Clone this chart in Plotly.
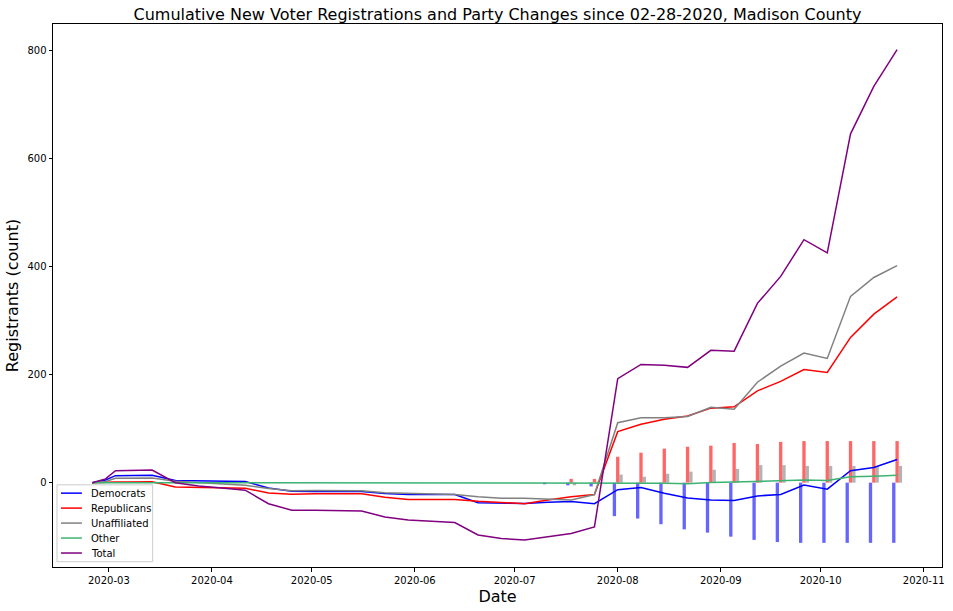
import plotly.graph_objects as go

dates = ["2020-02-25", "2020-02-29", "2020-03-03", "2020-03-07", "2020-03-14", "2020-03-21",
         "2020-03-28", "2020-04-04", "2020-04-11", "2020-04-18", "2020-04-25", "2020-05-02",
         "2020-05-09", "2020-05-16", "2020-05-23", "2020-05-30", "2020-06-06", "2020-06-13",
         "2020-06-20", "2020-06-27", "2020-07-04", "2020-07-11", "2020-07-18", "2020-07-25",
         "2020-08-01", "2020-08-08", "2020-08-15", "2020-08-22", "2020-08-29", "2020-09-05",
         "2020-09-12", "2020-09-19", "2020-09-26", "2020-10-03", "2020-10-10", "2020-10-17",
         "2020-10-24"]

democrats = [0, 5, 13, 13, 13.5, 4, 3, 2.5, 2, -10, -16, -16.5, -16.5, -16.5, -20, -22, -22, -22,
             -37, -37.5, -38.5, -36.5, -35, -39, -13, -9, -19.5, -28.5, -32, -33, -24.5, -22,
             -4.5, -12, 22, 28, 43]
republicans = [0, 1, 1, 1, 1.5, -8, -9, -10, -10.5, -19, -21.5, -20.5, -20.5, -20.5, -27, -31, -31,
               -31, -34.5, -37, -39, -32, -26, -22, 94.5, 108, 117.5, 123.5, 138, 140.5, 170,
               187.5, 209.5, 204, 269, 312, 344]
unaffiliated = [0, 2, 8, 8, 8.5, 2.5, 0, -2.5, -5, -11, -15, -14.5, -14.5, -15, -18.5, -19.5, -21,
                -22, -26, -29, -29, -30.5, -32, -22, 111, 120, 120, 122.5, 139.5, 136, 186, 216,
                240, 230, 345, 380, 402]
other = [0, 0, 0, 0, 0, 0, 0, 0, 0, 0, 0, 0, 0, 0, 0, 0, 0, 0, 0, 0, 0, 0, 0, 0,
         0, 0, -1, -2, 0.5, 1, 2, 3, 5, 4, 11, 12, 13.5]
total = [0, 7, 22, 22.5, 23.5, 0, -6, -10, -14, -39, -51, -51, -51.5, -52.5, -63.5, -69, -71.5,
         -74, -97, -103.5, -106, -100, -94, -82, 192.5, 219, 217.5, 213.5, 245, 243.5, 332, 382,
         450, 425.5, 646, 734, 802]

bar_dem = [0] * 21 + [-3, -5, -7, -62, -66.5, -77, -86.5, -92.5, -100, -106, -110, -111.5,
                      -111.5, -111.5, -111.5, -111.5]
bar_rep = [0] * 21 + [0, 7, 7, 48, 55.5, 63, 66.5, 68.5, 73.5, 71.5, 75.5, 77, 77, 77, 77, 77]
bar_una = [0] * 21 + [0, -5, 2, 15, 11, 16.5, 20.5, 24, 25.5, 32.5, 32.5, 31, 31, 31, 31, 31]

series_names = ["Democrats", "Republicans", "Unaffiliated", "Other", "Total"]
series_colors = ["blue", "red", "gray", "mediumseagreen", "purple"]

y_ticks = [0, 200, 400, 600, 800]
x_ticks = ["2020-03-01", "2020-04-01", "2020-05-01", "2020-06-01", "2020-07-01",
           "2020-08-01", "2020-09-01", "2020-10-01", "2020-11-01"]

DAY = 86400000
FONT = "DejaVu Sans"
W, H = 953, 611
ML, MR, MT, MB = 53, 8, 24, 43
PW, PH = W - ML - MR, H - MT - MB


def px_x(p):
    return (p - ML) / PW


def px_y(p):
    return (H - MB - p) / PH


fig = go.Figure()

for vals, col, off in [(bar_dem, "rgba(0,0,255,0.6)", -1.5),
                       (bar_rep, "rgba(255,0,0,0.6)", -0.5),
                       (bar_una, "rgba(128,128,128,0.6)", 0.5)]:
    fig.add_trace(go.Bar(x=dates, y=vals, width=DAY, offset=off * DAY,
                         marker=dict(color=col, line=dict(width=0)),
                         showlegend=False, hoverinfo="skip"))

for name, vals, col in zip(series_names,
                           [democrats, republicans, unaffiliated, other, total],
                           series_colors):
    fig.add_trace(go.Scatter(x=dates, y=vals, mode="lines", name=name,
                             line=dict(color=col, width=1.5), showlegend=False))

# matplotlib-style legend box (lower left)
shapes = [dict(type="rect", xref="paper", yref="paper", layer="above",
               x0=px_x(57), x1=px_x(153), y0=px_y(562.7), y1=px_y(485.7),
               fillcolor="rgba(255,255,255,0.8)", line=dict(color="#cccccc", width=1))]
annotations = []
for i, (name, col) in enumerate(zip(series_names, series_colors)):
    yy = px_y(494 + 15 * i)
    shapes.append(dict(type="line", xref="paper", yref="paper", layer="above",
                       x0=px_x(61), x1=px_x(82), y0=yy, y1=yy,
                       line=dict(color=col, width=1.5)))
    annotations.append(dict(text=name, xref="paper", yref="paper", x=px_x(89),
                            y=yy, xanchor="left", yanchor="middle", showarrow=False,
                            font=dict(family=FONT, size=10, color="black")))

fig.update_layout(
    width=W, height=H,
    margin=dict(l=ML, r=MR, t=MT, b=MB),
    paper_bgcolor="white", plot_bgcolor="white",
    barmode="overlay",
    font=dict(family=FONT, size=10, color="black"),
    title=dict(text="Cumulative New Voter Registrations and Party Changes since 02-28-2020, Madison County",
               x=0.5, xref="paper", xanchor="center",
               y=1 - 14 / H, yref="container", yanchor="middle",
               font=dict(family=FONT, size=16, color="black")),
    showlegend=False,
    shapes=shapes,
    annotations=annotations,
)

fig.update_xaxes(
    type="date", range=["2020-02-13 05:00", "2020-11-06 12:00"],
    tickvals=x_ticks, tickformat="%Y-%m",
    showgrid=False, zeroline=False,
    showline=True, linecolor="black", linewidth=1, mirror=True,
    ticks="outside", ticklen=3.5, tickwidth=0.8, tickcolor="black",
    title=dict(text="Date", font=dict(family=FONT, size=16, color="black"), standoff=6),
)
fig.update_yaxes(
    range=[-156.2, 849.4],
    tickvals=y_ticks,
    showgrid=False, zeroline=False,
    showline=True, linecolor="black", linewidth=1, mirror=True,
    ticks="outside", ticklen=3.5, tickwidth=0.8, tickcolor="black",
    title=dict(text="Registrants (count)", font=dict(family=FONT, size=16, color="black"), standoff=4),
)

fig.write_html("out.html", config={"displayModeBar": False},
               post_script="document.body.style.margin='0px';")
